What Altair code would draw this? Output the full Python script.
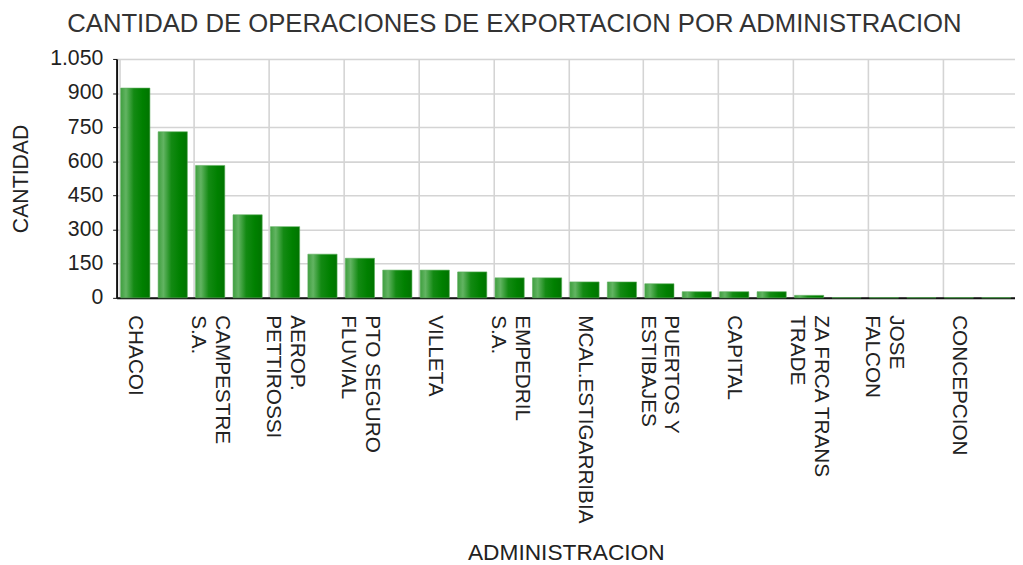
import altair as alt
import pandas as pd

# Categories (sorted by value); only every other name is visible in the reference,
# the hidden ones are given placeholder names.
categories = [
    "CHACOI", "ADM. 02",
    "CAMPESTRE\nS.A.", "ADM. 04",
    "AEROP.\nPETTIROSSI", "ADM. 06",
    "PTO SEGURO\nFLUVIAL", "ADM. 08",
    "VILLETA", "ADM. 10",
    "EMPEDRIL\nS.A.", "ADM. 12",
    "MCAL.ESTIGARRIBIA", "ADM. 14",
    "PUERTOS Y\nESTIBAJES", "ADM. 16",
    "CAPITAL", "ADM. 18",
    "ZA FRCA TRANS\nTRADE", "ADM. 20",
    "JOSE\nFALCON", "ADM. 22",
    "CONCEPCION", "ADM. 24",
]
values = [922, 730, 582, 365, 313, 192, 174, 122, 122, 114, 88, 88,
          70, 70, 62, 27, 27, 27, 11, 1, 1, 1, 1, 1]
labelled = categories[0::2]
y_ticks = [0, 150, 300, 450, 600, 750, 900, 1050]

df = pd.DataFrame({"adm": categories, "cantidad": values})

FONT = "Liberation Sans"
W = 910
H = 242
pi = 0.22
po = pi / 2
LINE_H = 24

green = alt.Gradient(
    gradient="linear",
    x1=0, x2=1, y1=0, y2=0,
    stops=[
        alt.GradientStop(offset=0.0, color="#3f9f3f"),
        alt.GradientStop(offset=0.18, color="#62b462"),
        alt.GradientStop(offset=0.45, color="#138a13"),
        alt.GradientStop(offset=0.75, color="#008000"),
        alt.GradientStop(offset=1.0, color="#007400"),
    ],
)

chart = (
    alt.Chart(df)
    .mark_bar(color=green, stroke="#5aae5a", strokeWidth=0.6)
    .encode(
        x=alt.X(
            "adm:N",
            sort=categories,
            scale=alt.Scale(paddingInner=pi, paddingOuter=po),
            axis=alt.Axis(
                title="ADMINISTRACION",
                values=labelled,
                labelAngle=90,
                labelExpr="split(datum.label, '\\n')",
                labelLineHeight=LINE_H,
                labelFontSize=21,
                labelFont=FONT,
                labelColor="#222",
                labelPadding=17,
                labelLimit=0,
                labelOverlap=False,
                labelOffset={
                    "condition": {
                        "test": "indexof(datum.value, '\\n') >= 0",
                        "value": LINE_H / 2,
                    },
                    "value": 0,
                },
                bandPosition=-0.035,
                ticks=False,
                grid=True,
                gridColor="#d4d4d4",
                gridWidth=1.6,
                domainColor="#111",
                domainWidth=2,
                titleFont=FONT,
                titleFontSize=23,
                titleFontWeight="normal",
                titleColor="#222",
                titleBaseline="alphabetic",
                titleY=265,
            ),
        ),
        y=alt.Y(
            "cantidad:Q",
            scale=alt.Scale(domain=[0, 1050], nice=False),
            axis=alt.Axis(
                title="CANTIDAD",
                values=y_ticks,
                labelExpr="replace(format(datum.value, ','), ',', '.')",
                labelFontSize=21.5,
                labelFont=FONT,
                labelColor="#222",
                labelPadding=10,
                tickSize=4,
                tickColor="#111",
                grid=True,
                gridColor="#d4d4d4",
                gridWidth=1.6,
                domainColor="#111",
                domainWidth=2,
                titleFont=FONT,
                titleFontSize=21.5,
                titleFontWeight="normal",
                titleColor="#222",
                titlePadding=17,
            ),
        ),
    )
    .properties(
        width=W,
        height=H,
        title=alt.TitleParams(
            "CANTIDAD DE OPERACIONES DE EXPORTACION POR ADMINISTRACION",
            font=FONT,
            fontSize=26,
            fontWeight="normal",
            color="#333",
            anchor="start",
            frame="group",
            dx=-50,
            dy=-7,
        ),
        autosize=alt.AutoSizeParams(type="none"),
        padding={"left": 110, "top": 48, "right": 0, "bottom": 268},
    )
    .configure_view(stroke=None)
    .configure(background="white")
)

chart.save("out.html", embed_options={"renderer": "svg", "actions": False})
